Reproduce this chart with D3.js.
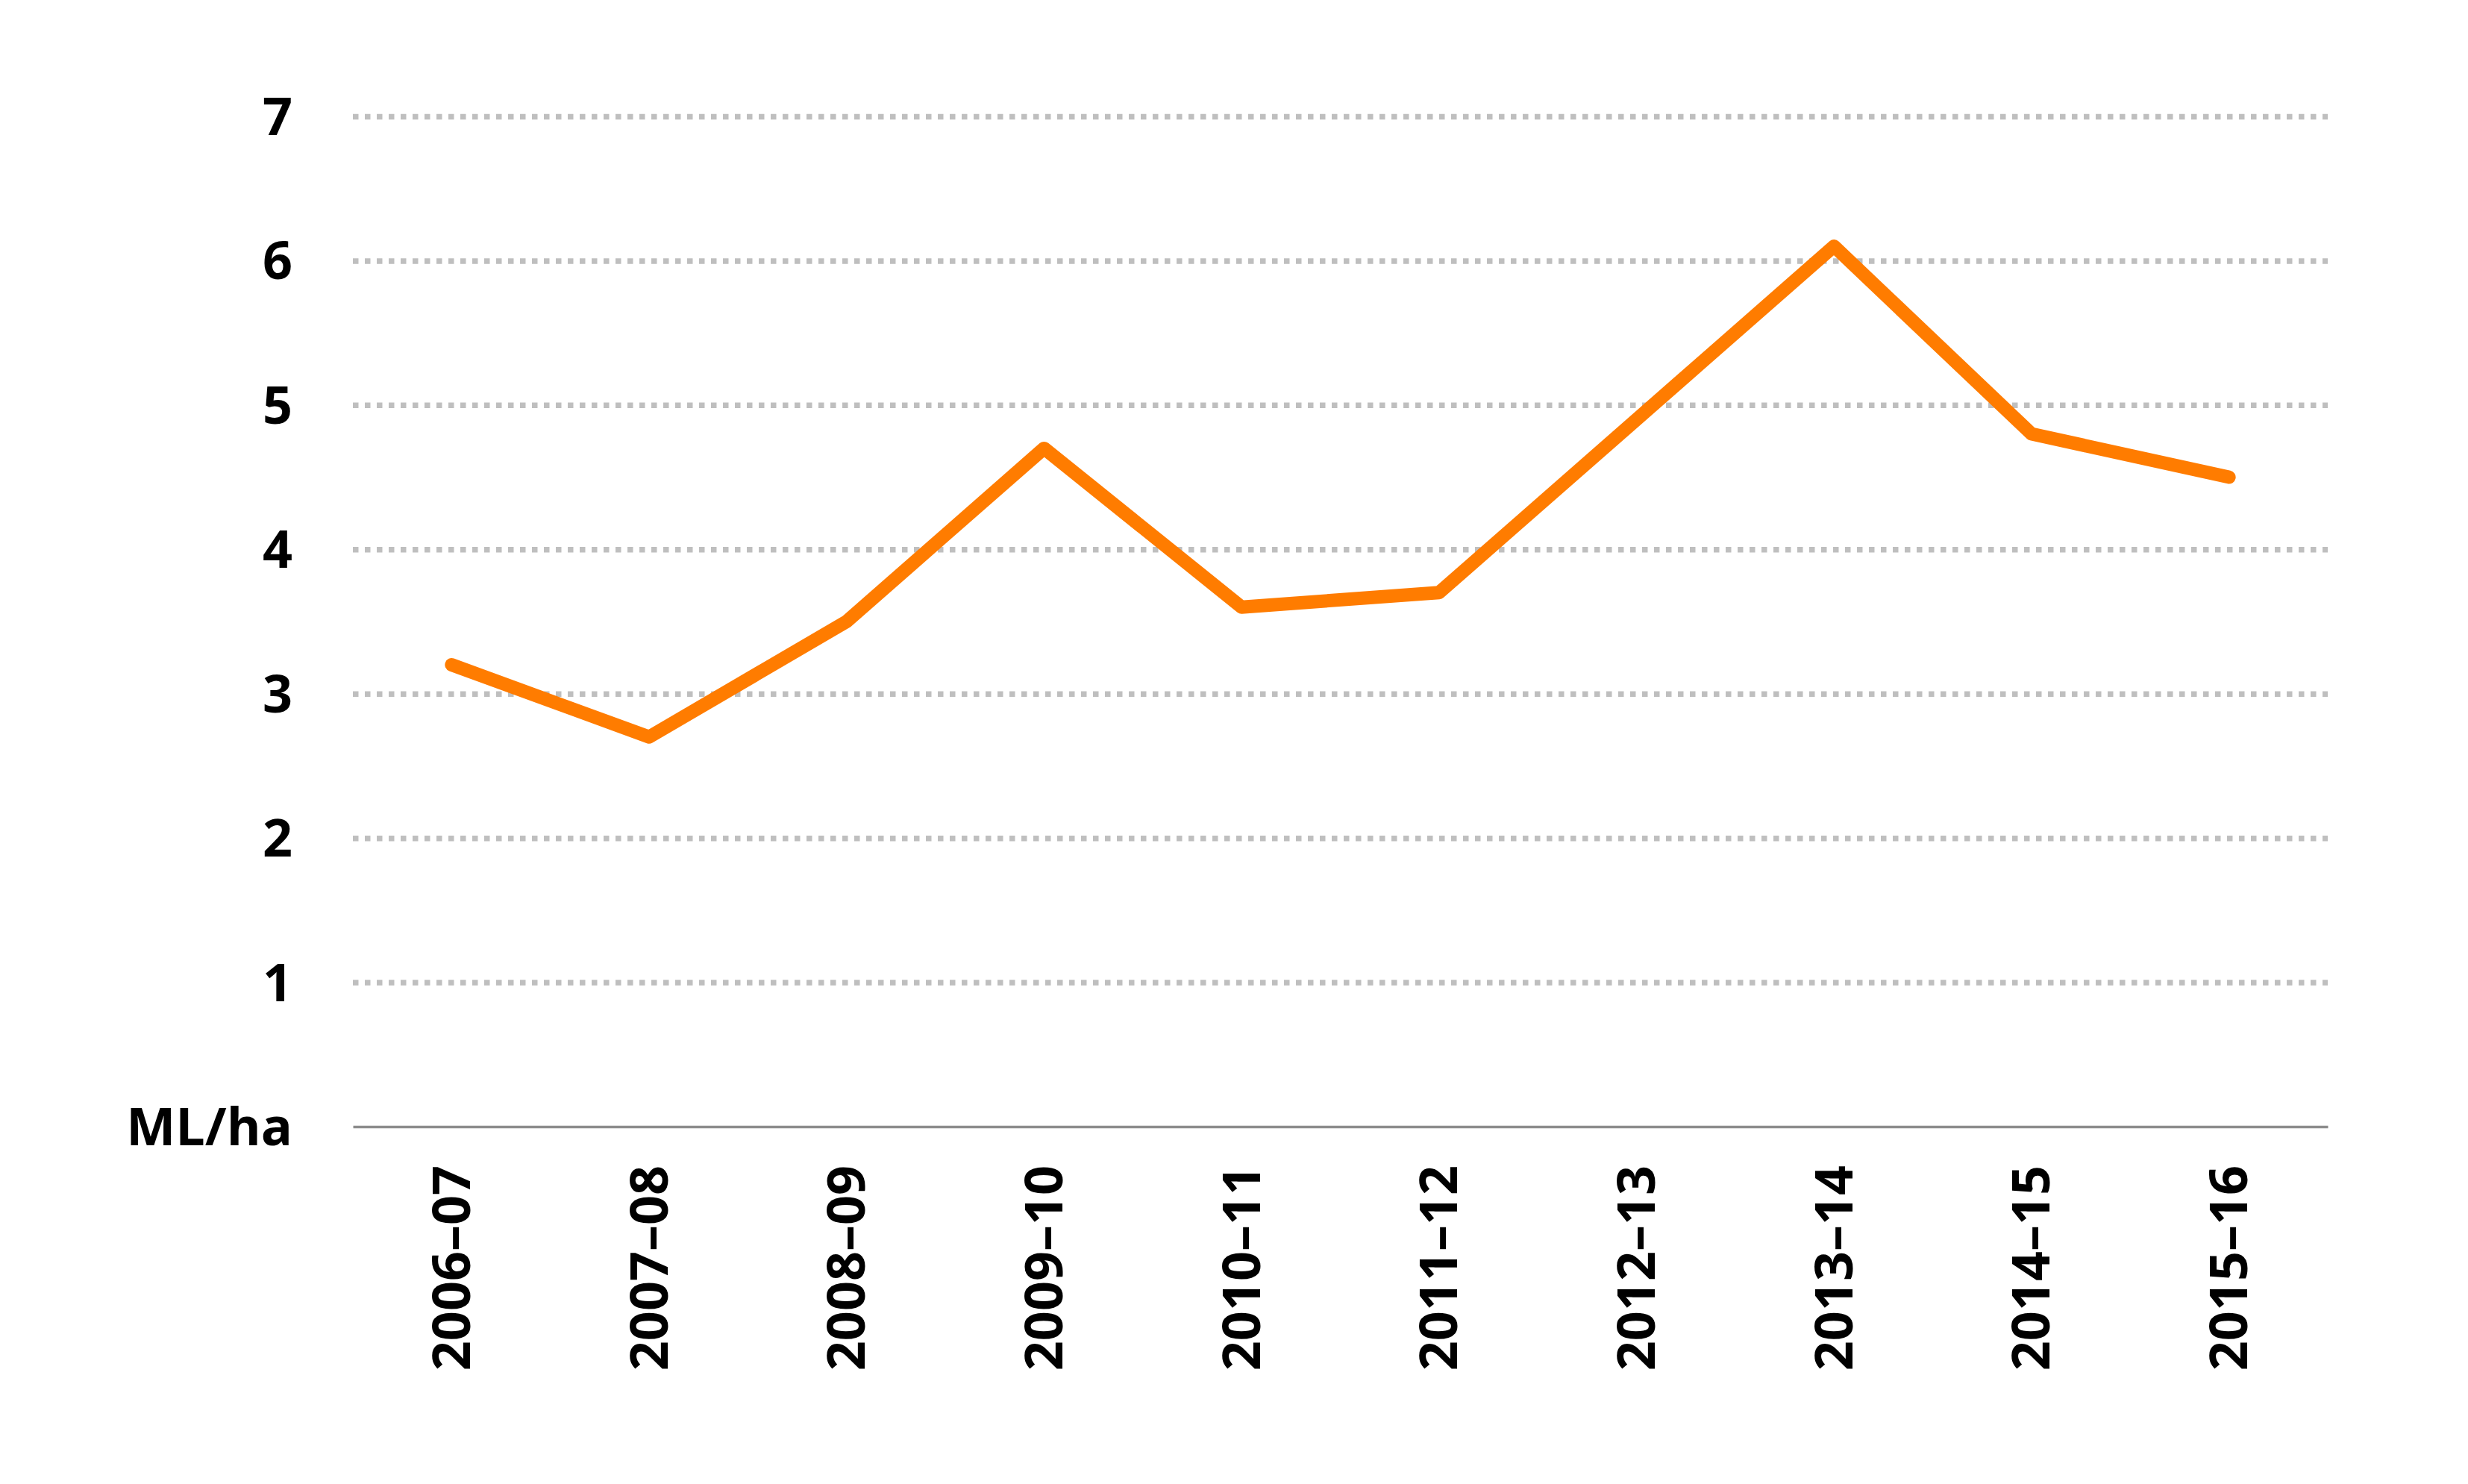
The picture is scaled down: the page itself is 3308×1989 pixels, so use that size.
<!DOCTYPE html>
<html>
<head>
<meta charset="utf-8">
<script src="https://cdn.jsdelivr.net/npm/d3@7"></script>
<style>
  html, body { margin: 0; padding: 0; background: #fff; }
  svg { display: block; }
  text { font-family: "Open Sans", "Noto Sans", sans-serif; font-weight: 700; fill: #000; }
</style>
</head>
<body>
<script>
const categories = ["2006–07","2007–08","2008–09","2009–10","2010–11","2011–12","2012–13","2013–14","2014–15","2015–16"];
const values = [3.2, 2.7, 3.5, 4.7, 3.6, 3.7, 4.9, 6.1, 4.8, 4.5];
const yTicks = [0, 1, 2, 3, 4, 5, 6, 7];
const unitLabel = "ML/ha";

(function () {
const W = 3308, H = 1989;
const plotLeft = 473, plotRight = 3120, plotTop = 156, plotBottom = 1510;

const svg = d3.select("body").append("svg").attr("width", W).attr("height", H);

const x = d3.scaleBand().domain(categories).range([plotLeft, plotRight]).padding(0);
const y = d3.scaleLinear().domain([0, 7]).range([plotBottom, plotTop]);

// gridlines + y labels
const yAxis = d3.axisLeft(y).tickValues(yTicks)
  .tickSize(-(plotRight - plotLeft))
  .tickFormat(d => d === 0 ? unitLabel : d3.format("d")(d));
const gy = svg.append("g").attr("transform", `translate(${plotLeft},0)`).call(yAxis);
gy.select(".domain").remove();
gy.selectAll(".tick line")
  .attr("stroke", "#BFBFBF").attr("stroke-width", 7.5).attr("stroke-dasharray", "7.5,8.5")
  .filter(d => d === 0).remove();
gy.selectAll(".tick text")
  .attr("x", -81).attr("dy", "0.35em")
  .style("font-size", "70px").style("font-family", "'Open Sans', sans-serif").style("font-weight", 700)
  .attr("fill", "#000");

// x axis
const xAxis = d3.axisBottom(x).tickSize(0).tickSizeOuter(0);
const gx = svg.append("g").attr("transform", `translate(0,${plotBottom})`).call(xAxis);
gx.select(".domain").attr("stroke", "#8C8C8C").attr("stroke-width", 3.5);
gx.selectAll(".tick text")
  .attr("transform", "rotate(-90)")
  .attr("x", -52).attr("y", 0).attr("dy", "0.35em")
  .attr("text-anchor", "end")
  .style("font-size", "70px").style("font-family", "'Open Sans', sans-serif").style("font-weight", 700)
  .attr("fill", "#000");

// line
const line = d3.line()
  .x((d, i) => x(categories[i]) + x.bandwidth() / 2)
  .y(d => y(d));
svg.append("path")
  .datum(values)
  .attr("d", line)
  .attr("fill", "none")
  .attr("stroke", "#FF7C00")
  .attr("stroke-width", 18)
  .attr("stroke-linejoin", "round")
  .attr("stroke-linecap", "round");
})();
</script>
</body>
</html>
